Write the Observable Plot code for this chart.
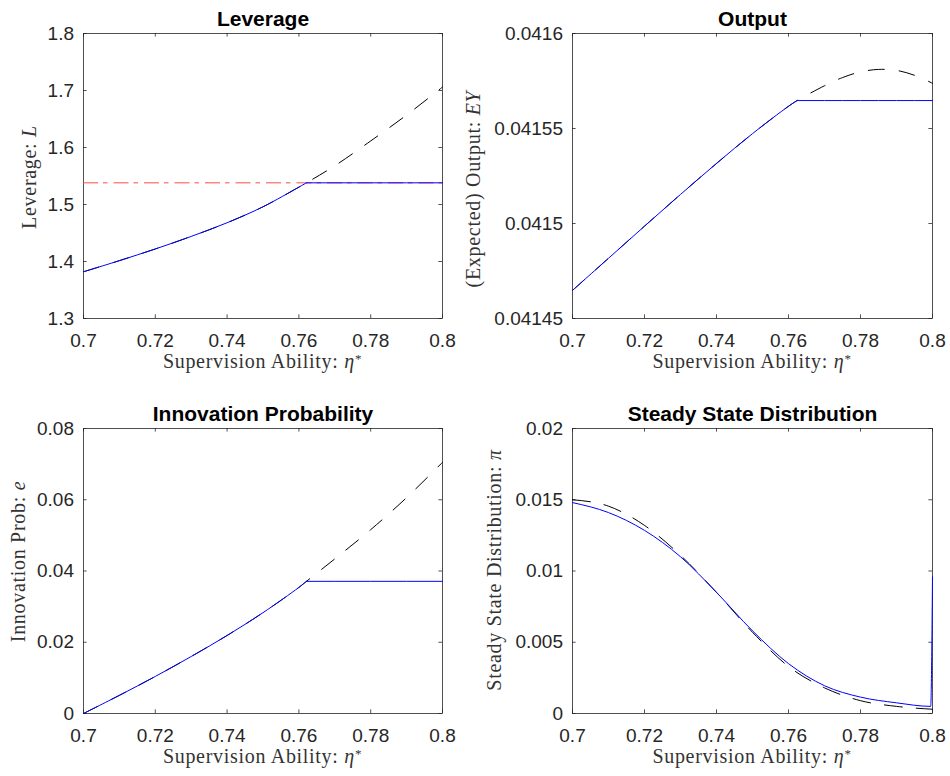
<!DOCTYPE html>
<html>
<head>
<meta charset="utf-8">
<script src="https://cdn.jsdelivr.net/npm/d3@7"></script>
<script src="https://cdn.jsdelivr.net/npm/@observablehq/plot@0.6"></script>
<style>
  html, body { margin: 0; padding: 0; background: white; }
  #root { position: relative; width: 950px; height: 776px; overflow: hidden; background: white; }
</style>
</head>
<body>
<div id="root"></div>
<script>
// ---------- tick values ----------
const xTicks   = [0.7, 0.72, 0.74, 0.76, 0.78, 0.8];
const levTicks = [1.3, 1.4, 1.5, 1.6, 1.7, 1.8];
const outTicks = [0.04145, 0.0415, 0.04155, 0.0416];
const innTicks = [0, 0.02, 0.04, 0.06, 0.08];
const ssdTicks = [0, 0.005, 0.01, 0.015, 0.02];

// ---------- Leverage ----------
const levX   = [0.70, 0.71, 0.72, 0.73, 0.74, 0.75, 0.76, 0.7621, 0.77, 0.78, 0.79, 0.80];
const levUnc = [1.382, 1.4015, 1.422, 1.444, 1.468, 1.496, 1.5305, 1.538, 1.568, 1.6115, 1.657, 1.706];
const levCon = [1.382, 1.4015, 1.422, 1.444, 1.468, 1.496, 1.5305, 1.538, 1.538, 1.538, 1.538, 1.538];
const levKink = 0.7621;
const levCap = 1.538;

// ---------- Output ----------
const outX   = [0.70, 0.71, 0.72, 0.73, 0.74, 0.75, 0.76, 0.7624, 0.77, 0.775, 0.78, 0.785, 0.79, 0.795, 0.80];
const outUnc = [0.0414648, 0.0414817, 0.0414986, 0.0415153, 0.0415316, 0.0415473, 0.0415617, 0.0415647,
                0.0415725, 0.0415768, 0.0415798, 0.0415811, 0.0415806, 0.0415780, 0.0415738];
const outCon = [0.0414648, 0.0414817, 0.0414986, 0.0415153, 0.0415316, 0.0415473, 0.0415617, 0.0415647,
                0.0415647, 0.0415647, 0.0415647, 0.0415647, 0.0415647, 0.0415647, 0.0415647];
const outKink = 0.7624;

// ---------- Innovation probability ----------
const innX   = [0.70, 0.71, 0.72, 0.73, 0.74, 0.75, 0.76, 0.7621, 0.77, 0.78, 0.79, 0.80];
const innUnc = [0, 0.0051, 0.0104, 0.0160, 0.0219, 0.0283, 0.0354, 0.0371, 0.0434, 0.0516, 0.0606, 0.0705];
const innCon = [0, 0.0051, 0.0104, 0.0160, 0.0219, 0.0283, 0.0354, 0.0371, 0.0371, 0.0371, 0.0371, 0.0371];
const innKink = 0.7621;

// ---------- Steady state distribution ----------
const ssdXc  = [0.70, 0.71, 0.72, 0.73, 0.74, 0.75, 0.76, 0.77, 0.78, 0.79, 0.7995, 0.80];
const ssdCon = [0.0148, 0.0141, 0.01285, 0.0110, 0.0085, 0.0058, 0.0035, 0.00195, 0.00115, 0.00075, 0.0005, 0.0096];
const ssdXu  = [0.70, 0.71, 0.72, 0.73, 0.74, 0.75, 0.76, 0.77, 0.78, 0.79, 0.80];
const ssdUnc = [0.0150, 0.01455, 0.0132, 0.0111, 0.0085, 0.0057, 0.0033, 0.0018, 0.0009, 0.0005, 0.0003];

// ---------- helpers ----------
const rows = (xs, ys) => xs.map((x, i) => ({x, y: ys[i]}));
const splitAtKink = (xs, ys, kink) => {
  const out = [];
  xs.forEach((x, i) => {
    if (x <= kink) out.push({x, y: ys[i], seg: "rise"});
    if (x >= kink) out.push({x, y: ys[i], seg: "flat"});
  });
  return out;
};

const AX = "#262626";
const DASH = "16,15";

function dashedLine(data) {
  return Plot.line(data, {x: "x", y: "y", stroke: "black", strokeWidth: 1, strokeDasharray: DASH, curve: "catmull-rom"});
}
function blueKinked(data) {
  return [
    Plot.line(data.filter(d => d.seg === "rise"), {x: "x", y: "y", stroke: "#0000ff", strokeWidth: 1, curve: "catmull-rom"}),
    Plot.line(data.filter(d => d.seg === "flat"), {x: "x", y: "y", stroke: "#0000ff", strokeWidth: 1, curve: "linear"})
  ];
}

const root = document.getElementById("root");

function panel(o) {
  const fw = o.width - o.mL - o.mR;
  const fh = o.height - o.mT - o.mB;
  const fmt = d => String(d);
  const tickStyle = {stroke: AX, strokeWidth: 0.8};
  const svg = Plot.plot({
    width: o.width, height: o.height,
    marginLeft: o.mL, marginRight: o.mR, marginTop: o.mT, marginBottom: o.mB,
    x: {domain: [0.7, 0.8]},
    y: {domain: o.yDomain},
    style: {fontFamily: "'Liberation Sans', Arial, sans-serif", fontSize: "19px", color: AX,
            background: "transparent", overflow: "visible"},
    marks: [
      Plot.frame({stroke: AX, strokeWidth: 0.8}),
      Plot.ruleX(xTicks, {x: d => d, insetTop: fh - 3.6, ...tickStyle}),
      Plot.ruleX(xTicks, {x: d => d, insetBottom: fh - 3.6, ...tickStyle}),
      Plot.ruleY(o.yTicks, {y: d => d, insetRight: fw - 3.6, ...tickStyle}),
      Plot.ruleY(o.yTicks, {y: d => d, insetLeft: fw - 3.6, ...tickStyle}),
      Plot.axisX({ticks: xTicks, tickSize: 0, tickPadding: 14.5, tickFormat: fmt, label: null}),
      Plot.axisY({ticks: o.yTicks, tickSize: 0, tickPadding: 9.5, tickFormat: fmt, label: null}),
      ...o.marks,
      Plot.text([o.title], {text: d => d, frameAnchor: "top", dy: -8, lineAnchor: "bottom",
                            fontSize: 21, fontWeight: "bold", fill: "black"})
    ]
  });
  svg.style.position = "absolute";
  svg.style.left = o.left + "px";
  svg.style.top = o.top + "px";
  root.appendChild(svg);

  const s = d3.select(svg);
  const serif = "'Liberation Serif', 'Times New Roman', serif";
  // x label
  const xl = s.append("text")
    .attr("x", o.mL + fw / 2).attr("y", 368)
    .attr("text-anchor", "middle").attr("font-family", serif).attr("font-size", 20)
    .attr("letter-spacing", "0.7px").attr("fill", "#333");
  xl.append("tspan").text("Supervision Ability: ");
  xl.append("tspan").attr("font-style", "italic").text("η");
  xl.append("tspan").attr("dy", -5).attr("font-size", 13).text("*");
  // y label
  const yl = s.append("text")
    .attr("transform", `translate(${o.ylx},${o.yly}) rotate(-90)`)
    .attr("text-anchor", "middle").attr("font-family", serif).attr("font-size", 20)
    .attr("letter-spacing", "0.7px").attr("fill", "#333");
  yl.append("tspan").text(o.ylabel[0]);
  yl.append("tspan").attr("font-style", "italic").text(o.ylabel[1]);
}

// Leverage (top-left)
panel({
  left: 0, top: 0, width: 475, height: 395, mL: 83, mR: 33, mT: 33, mB: 77,
  yDomain: [1.3, 1.8], yTicks: levTicks, title: "Leverage",
  ylabel: ["Leverage: ", "L"], ylx: 35.5, yly: 177,
  marks: [
    Plot.ruleY([levCap], {y: d => d, stroke: "#ff4a4a", strokeWidth: 1, strokeDasharray: "15,5,4.5,6"}),
    dashedLine(rows(levX, levUnc)),
    ...blueKinked(splitAtKink(levX, levCon, levKink))
  ]
});

// Output (top-right)
panel({
  left: 475, top: 0, width: 475, height: 395, mL: 97, mR: 18, mT: 33, mB: 77,
  yDomain: [0.04145, 0.0416], yTicks: outTicks, title: "Output",
  ylabel: ["(Expected) Output: ", "EY"], ylx: 5, yly: 189,
  marks: [
    dashedLine(rows(outX, outUnc)),
    ...blueKinked(splitAtKink(outX, outCon, outKink))
  ]
});

// Innovation Probability (bottom-left)
panel({
  left: 0, top: 395, width: 475, height: 381, mL: 83, mR: 33, mT: 33, mB: 63,
  yDomain: [0, 0.08], yTicks: innTicks, title: "Innovation Probability",
  ylabel: ["Innovation Prob: ", "e"], ylx: 24.5, yly: 166.5,
  marks: [
    dashedLine(rows(innX, innUnc)),
    ...blueKinked(splitAtKink(innX, innCon, innKink))
  ]
});

// Steady State Distribution (bottom-right)
panel({
  left: 475, top: 395, width: 475, height: 381, mL: 97, mR: 18, mT: 33, mB: 63,
  yDomain: [0, 0.02], yTicks: ssdTicks, title: "Steady State Distribution",
  ylabel: ["Steady State Distribution: ", "π"], ylx: 26, yly: 175,
  marks: [
    Plot.line(rows(ssdXu, ssdUnc), {x: "x", y: "y", stroke: "black", strokeWidth: 1, strokeDasharray: "18,14", curve: "monotone-x"}),
    Plot.line(rows(ssdXc, ssdCon), {x: "x", y: "y", stroke: "#0000ff", strokeWidth: 1, curve: "monotone-x"})
  ]
});
</script>
</body>
</html>
